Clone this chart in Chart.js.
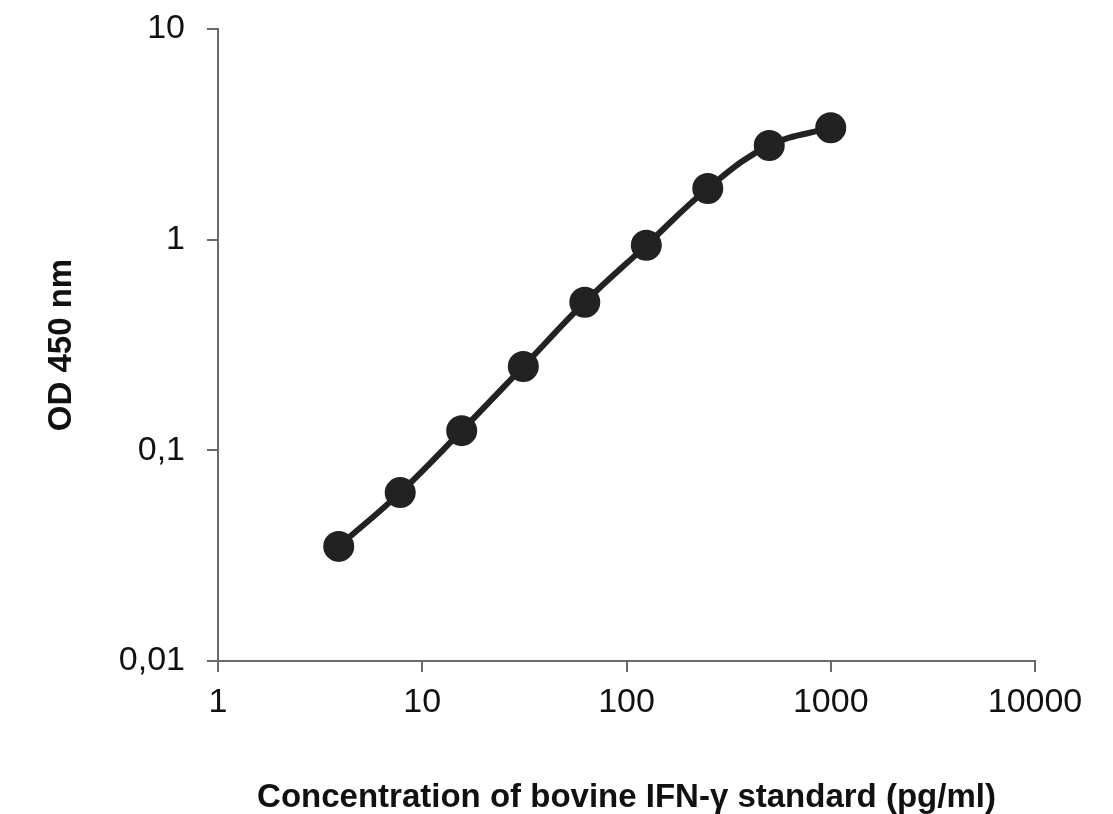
<!DOCTYPE html>
<html>
<head>
<meta charset="utf-8">
<script src="https://cdn.jsdelivr.net/npm/chart.js@4"></script>
<style>
  body { margin: 0; background: #fff; }
</style>
</head>
<body>
<canvas id="stdCurve" width="1113" height="814"></canvas>
<script>
// Data standar (pg/ml vs OD 450)
const concentration = [3.9, 7.8, 15.6, 31.25, 62.5, 125, 250, 500, 1000];
const odValues = [0.035, 0.063, 0.124, 0.25, 0.505, 0.94, 1.75, 2.8, 3.4];

const xTickValues = [1, 10, 100, 1000, 10000];
const xTickLabels = ['1', '10', '100', '1000', '10000'];
const yTickValues = [0.01, 0.1, 1, 10];
const yTickLabels = ['0,01', '0,1', '1', '10'];

const axisColor = '#6a6a6a';
const tickFont = { family: 'Liberation Sans, Arial, sans-serif', size: 34 };
const titleFont = { family: 'Liberation Sans, Arial, sans-serif', size: 33, weight: 'bold', lineHeight: 1 };

const ctx = document.getElementById('stdCurve').getContext('2d');
const stdChart = new Chart(ctx, {
    type: 'scatter',
    data: {
        datasets: [{
            data: concentration.map((c, i) => ({ x: c, y: odValues[i] })),
            showLine: true,
            borderColor: '#222',
            backgroundColor: '#222',
            borderWidth: 6,
            pointRadius: 12.5,
            pointHoverRadius: 12.5,
            tension: 0.4
        }]
    },
    options: {
        responsive: false,
        animation: false,
        layout: { padding: { top: 29, right: 78, bottom: 0, left: 0 } },
        plugins: {
            legend: { display: false },
            tooltip: { enabled: false }
        },
        scales: {
            x: {
                type: 'logarithmic',
                min: 1,
                max: 10000,
                afterBuildTicks: (scale) => { scale.ticks = xTickValues.map(v => ({ value: v })); },
                afterFit: (scale) => { scale.height = 153; },
                ticks: {
                    color: '#111',
                    font: tickFont,
                    padding: 10,
                    maxRotation: 0,
                    callback: (v) => xTickLabels[xTickValues.indexOf(v)]
                },
                grid: { drawOnChartArea: false, color: axisColor, lineWidth: 2, tickLength: 11 },
                border: { color: axisColor, width: 2 },
                title: {
                    display: true,
                    text: 'Concentration of bovine IFN-γ standard (pg/ml)',
                    color: '#111',
                    font: titleFont,
                    padding: { top: 0, bottom: 0 }
                }
            },
            y: {
                type: 'logarithmic',
                min: 0.01,
                max: 10,
                afterBuildTicks: (scale) => { scale.ticks = yTickValues.map(v => ({ value: v })); },
                afterFit: (scale) => {
                    scale.width = 218;
                    scale.paddingTop = 0;
                    scale.paddingBottom = 0;
                },
                ticks: {
                    color: '#111',
                    font: tickFont,
                    padding: 22,
                    callback: (v) => yTickLabels[yTickValues.indexOf(v)]
                },
                grid: { drawOnChartArea: false, color: axisColor, lineWidth: 2, tickLength: 11 },
                border: { color: axisColor, width: 2 },
                title: {
                    display: true,
                    text: 'OD 450 nm',
                    color: '#111',
                    font: titleFont,
                    padding: { top: 45, bottom: 0 }
                }
            }
        }
    }
});
</script>
</body>
</html>
